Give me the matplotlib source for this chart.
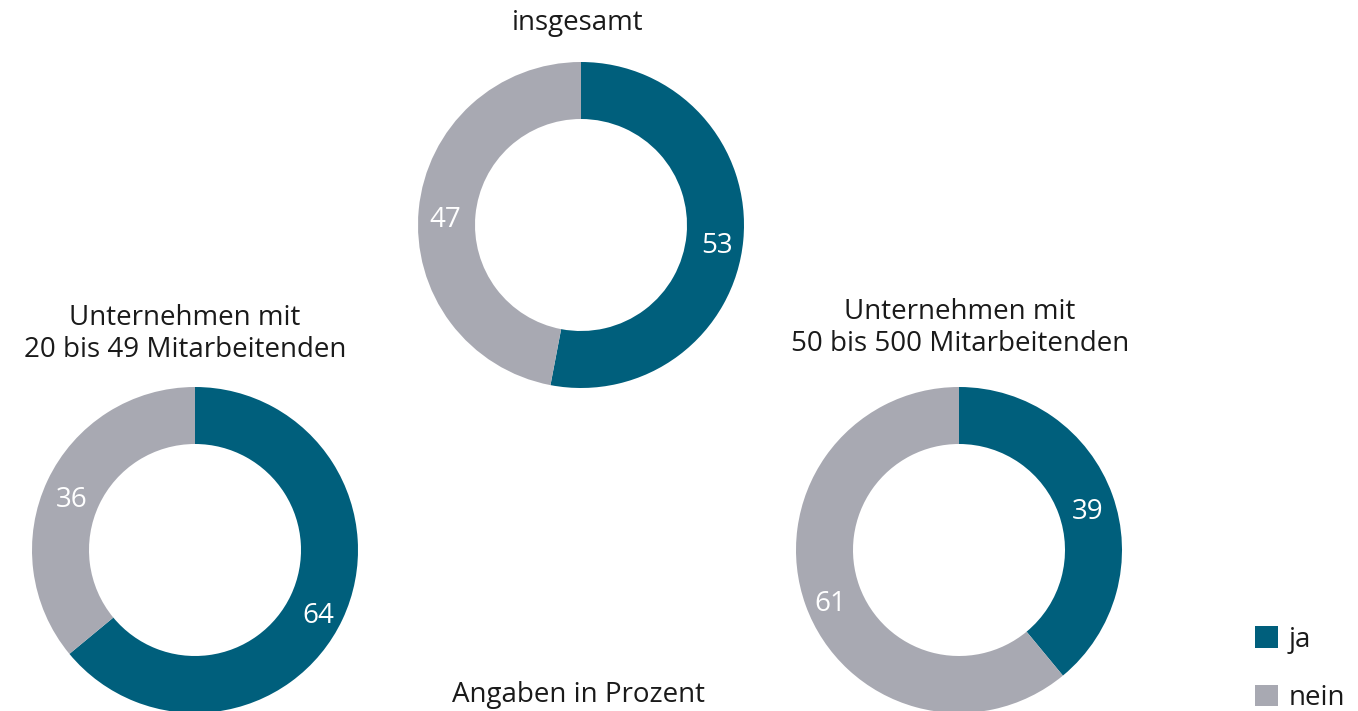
import matplotlib.pyplot as plt

# Daten
titel = ["insgesamt", "Unternehmen mit\n20 bis 49 Mitarbeitenden", "Unternehmen mit\n50 bis 500 Mitarbeitenden"]
kategorien = ["ja", "nein"]
werte_gesamt = [53, 47]
werte_klein = [64, 36]
werte_gross = [39, 61]

farben = ["#005F7C", "#A8A9B2"]
W, H = 1358, 711

plt.rcParams["font.family"] = ["Open Sans", "DejaVu Sans"]

fig = plt.figure(figsize=(W / 100, H / 100), dpi=100)
ax = fig.add_axes([0, 0, 1, 1])

# (Mittelpunkt in Pixel, Titelposition)
donuts = [
    (werte_gesamt, (581, 225), titel[0], (578, 23)),
    (werte_klein, (195, 550), titel[1], (185, 334)),
    (werte_gross, (959, 550), titel[2], (960, 328)),
]

r = 163
breite = 57
wedges = None
for werte, (cx, cy), t, (tx, ty) in donuts:
    w, texts = ax.pie(
        werte, colors=farben, startangle=90, counterclock=False,
        center=(cx, H - cy), radius=r,
        wedgeprops=dict(width=breite, edgecolor="none"),
        labels=[str(v) for v in werte], labeldistance=(r - breite / 2 + 2) / r,
        textprops=dict(color="white", fontsize=20, ha="center", va="center"),
        frame=True,
    )
    for tt in texts:
        x, y = tt.get_position()
        tt.set_position((x, y - 8))
    if wedges is None:
        wedges = w
    ax.text(tx, H - ty, t, ha="center", va="center", fontsize=20,
            color="#1a1a1a", linespacing=1.2)

ax.text(578, H - 695, "Angaben in Prozent", ha="center", va="center",
        fontsize=20, color="#1a1a1a")

ax.set_xlim(0, W)
ax.set_ylim(0, H)
ax.set_aspect("equal")
ax.axis("off")

leg = ax.legend(wedges, kategorien, loc="lower left", bbox_to_anchor=(1230 / W, -0.037),
                frameon=False, fontsize=20, handlelength=0.82, handleheight=0.82,
                labelspacing=1.1, handletextpad=0.4)
for t in leg.get_texts():
    t.set_color("#1a1a1a")

fig.savefig("out.png", dpi=100)
